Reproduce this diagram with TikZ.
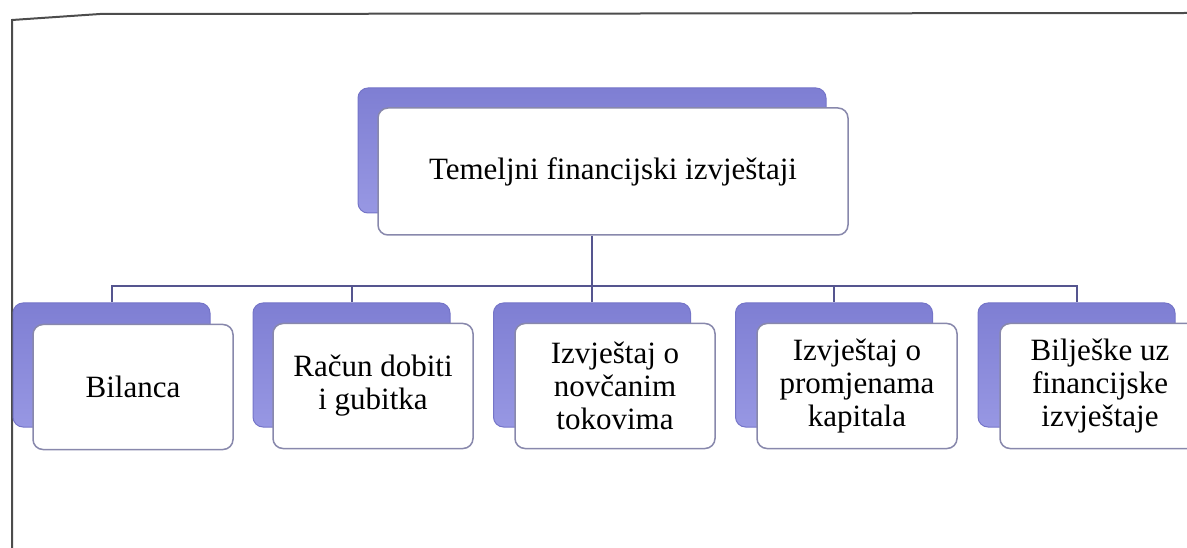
\documentclass[tikz,border=0pt]{standalone}
\usepackage{fontspec}
\setmainfont{Liberation Serif}

\definecolor{backfill}{HTML}{8585DE}
\definecolor{backline}{HTML}{7575C8}
\definecolor{frontline}{HTML}{8888AC}
\definecolor{linkcol}{HTML}{55558F}

\begin{document}
\begin{tikzpicture}[x=1pt, y=-1pt,
  backbox/.style={draw=backline, line width=1pt, rounded corners=10pt, top color=backfill!95!black, bottom color=backfill!85!white, minimum width=197pt, minimum height=124pt, inner sep=0pt},
  frontbox/.style={draw=frontline, line width=1.5pt, fill=white, rounded corners=10pt, minimum width=200pt, minimum height=125pt, align=center, inner sep=0pt, font=\rmfamily\fontsize{31}{33}\selectfont},
  link/.style={draw=linkcol, line width=2pt},
  frame/.style={draw=black!70, line width=2pt}]
  \useasboundingbox (0,0) rectangle (1187,548);
  \clip (0,0) rectangle (1187,548);

  \draw[frame] (12,548) -- (12,20) -- (100,14) -- (1187,13);

  \node[backbox, minimum width=468pt, minimum height=125pt] (tback) at (592,150.5) {};
  \node[frontbox, minimum width=470pt, minimum height=127pt] (tfront) at (613,171.5) {Temeljni financijski izvještaji};

  \node[backbox] (bilback) at (111.5,365) {};
  \node[frontbox] (bil) at (133,387) {Bilanca};
  \node[backbox] (rdgback) at (351.5,365) {};
  \node[frontbox] (rdg) at (373,386) {Račun dobiti\\i gubitka};
  \node[backbox] (intback) at (592,365) {};
  \node[frontbox] (int) at (615,386) {Izvještaj o\\novčanim\\tokovima};
  \node[backbox] (ipkback) at (834,365) {};
  \node[frontbox] (ipk) at (857,386) {Izvještaj o\\promjenama\\kapitala};
  \node[backbox] (bfiback) at (1076.5,365) {};
  \node[frontbox] (bfi) at (1100,386) {Bilješke uz\\financijske\\izvještaje};

  \draw[link] (tback |- tfront.south) -- ++(0,50) coordinate (bar);
  \draw[link] (bar) -| (bilback.north);
  \draw[link] (bar) -| (rdgback.north);
  \draw[link] (bar) -- (intback.north);
  \draw[link] (bar) -| (ipkback.north);
  \draw[link] (bar) -| (bfiback.north);
\end{tikzpicture}
\end{document}
